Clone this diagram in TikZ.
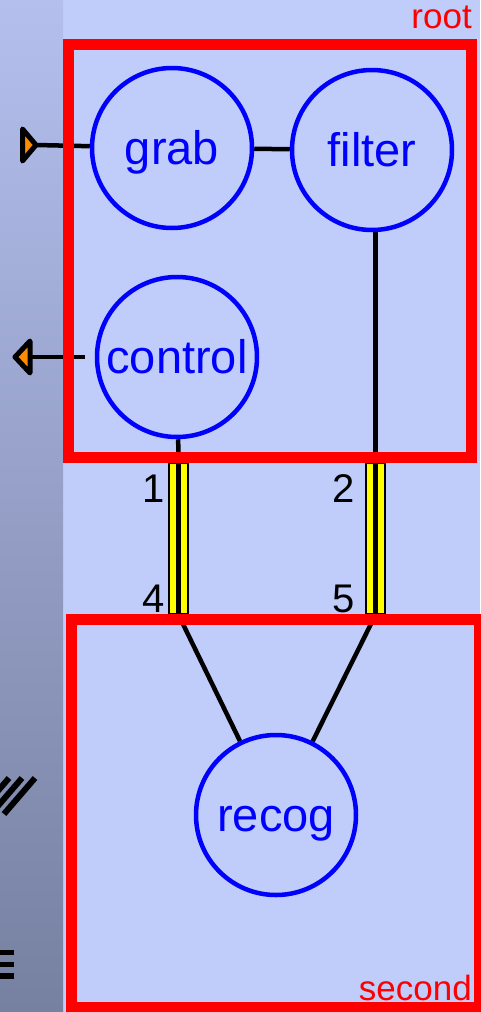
\documentclass[tikz,border=0pt]{standalone}
\usepackage{fontspec}
\setmainfont{Liberation Sans}
\usetikzlibrary{calc}
\definecolor{panel}{RGB}{192,204,250}
\definecolor{striptop}{RGB}{180,191,238}
\definecolor{stripbot}{RGB}{118,128,160}
\definecolor{boxred}{RGB}{255,0,0}
\definecolor{procblue}{RGB}{0,0,255}
\definecolor{portorange}{RGB}{255,140,0}
\definecolor{chanyellow}{RGB}{255,255,0}
\pgfdeclarelayer{backdrop}
\pgfdeclarelayer{wires}
\pgfsetlayers{backdrop,wires,main}
\tikzset{
  proc/.style={circle, draw=procblue, line width=4.5pt, minimum size=160pt, inner sep=0pt,
    text=procblue, font=\fontsize{47}{47}\selectfont, text height=33pt, text depth=0pt},
  region/.style={draw=boxred, line width=11pt, inner sep=0pt},
  regionlabel/.style={text=boxred, font=\fontsize{35}{35}\selectfont, anchor=base east, inner sep=0pt},
  wire/.style={draw=black, line width=4.5pt},
  port/.style={draw=black, fill=portorange, line width=5pt, line join=round},
  chan/.style={draw=black, fill=chanyellow, line width=1.7pt, minimum width=19pt, minimum height=151pt, inner sep=0pt},
  chanmark/.style={font=\fontsize{40}{40}\selectfont, anchor=base east, inner sep=0pt}
}
\begin{document}
\begin{tikzpicture}[x=1pt,y=-1pt]
\useasboundingbox (0,0) rectangle (480,1012);
% backgrounds
\begin{pgfonlayer}{backdrop}
  \fill[panel] (0,0) rectangle (480,1012);
  \shade[top color=striptop, bottom color=stripbot] (0,0) rectangle (63,1012);
  % glyph fragments at the left edge
  \begin{scope}
    \clip (0,0) rectangle (63,1012);
    \foreach \dx in {0,-13,-26}
      \draw[line width=6pt] (35+\dx,778) -- (4+\dx,814);
    \fill (0,950) rectangle (14,955);
    \fill (0,962) rectangle (14,967);
    \fill (0,973) rectangle (14,979);
  \end{scope}
\end{pgfonlayer}
% processes
\node[proc] (grab) at (172,148) {grab};
\node[proc] (filter) at (372,150) {filter};
\node[proc] (control) at (177,357) {control};
\node[proc] (recog) at (276,815) {recog};
% channels between the two regions
\node[chan] (bar1) at (178.5,538.5) {};
\node[chan] (bar2) at (375.5,538.5) {};
\draw[line width=5.5pt] ($(bar1.north)+(0,1)$) -- ($(bar1.south)+(0,-1)$);
\draw[line width=5.5pt] ($(bar2.north)+(0,1)$) -- ($(bar2.south)+(0,-1)$);
\node[chanmark] (m1) at (165,502) {1};
\node[chanmark] (m2) at (355,502) {2};
\node[chanmark] (m4) at (165,612) {4};
\node[chanmark] (m5) at (355,612) {5};
% external ports
\coordinate (gp) at (36,145);
\coordinate (cp) at (30,357);
\coordinate (cpend) at (85,357);
\draw[port] (22.5,129) -- (22.5,161) -- (gp) -- cycle;
\draw[port] (15,357) -- (30,341) -- (30,373) -- cycle;
% connections
\begin{pgfonlayer}{wires}
  \draw[wire] (gp) -- (grab);
  \draw[wire] (cp) -- (cpend);
  \draw[wire] (grab) -- (filter);
  \draw[wire] (bar2.north) -- (bar2.north |- filter.south);
  \draw[wire] (bar1.north) -- (control);
  \draw[wire] (bar1.south) -- (recog);
  \draw[wire] (bar2.south) -- (recog);
\end{pgfonlayer}
% regions
\node[region, minimum width=403pt, minimum height=413pt] (root) at (270,251) {};
\node[region, minimum width=407.5pt, minimum height=387.5pt] (second) at (275.25,813.25) {};
\node[regionlabel] (rootlbl) at (472,28) {root};
\node[regionlabel] (secondlbl) at (472,1000) {second};
\end{tikzpicture}
\end{document}
